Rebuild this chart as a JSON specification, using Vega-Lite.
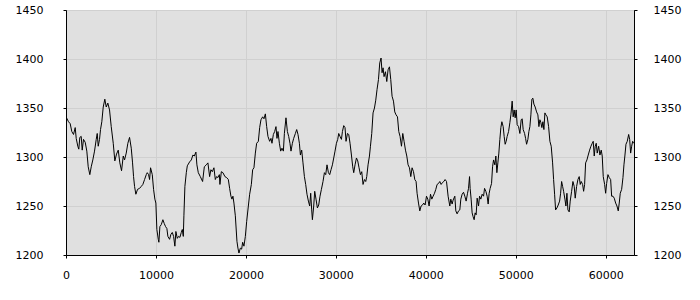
{
  "$schema": "https://vega.github.io/schema/vega-lite/v6.json",
  "width": 568,
  "height": 245,
  "autosize": {"type": "none"},
  "padding": {"left": 66, "top": 10, "right": 66, "bottom": 45},
  "background": "white",
  "config": {
    "view": {"fill": "#e0e0e0", "stroke": "#000000", "strokeWidth": 1},
    "axis": {
      "labelFont": "DejaVu Sans",
      "labelFontSize": 11,
      "labelColor": "#000000",
      "domainColor": "#000000",
      "tickColor": "#000000",
      "tickSize": 3,
      "gridColor": "#d0d0d0",
      "gridOpacity": 1,
      "labelFlush": false,
      "labelOverlap": false,
      "title": null
    }
  },
  "data": {
    "values": [
      {"x":0,"y":1341},{"x":278,"y":1336},{"x":467,"y":1334},{"x":645,"y":1326},{"x":835,"y":1323},{"x":1024,"y":1330},{"x":1135,"y":1319},{"x":1313,"y":1311},{"x":1424,"y":1308},{"x":1536,"y":1320},{"x":1691,"y":1321},{"x":1803,"y":1307},{"x":1947,"y":1318},{"x":2136,"y":1315},{"x":2314,"y":1306},{"x":2470,"y":1290},{"x":2648,"y":1282},{"x":2804,"y":1290},{"x":2982,"y":1297},{"x":3171,"y":1306},{"x":3360,"y":1318},{"x":3472,"y":1324},{"x":3583,"y":1311},{"x":3728,"y":1318},{"x":3839,"y":1328},{"x":3983,"y":1336},{"x":4139,"y":1351},{"x":4317,"y":1359},{"x":4473,"y":1351},{"x":4651,"y":1355},{"x":4840,"y":1348},{"x":5029,"y":1331},{"x":5252,"y":1314},{"x":5430,"y":1296},{"x":5619,"y":1303},{"x":5808,"y":1307},{"x":5986,"y":1294},{"x":6175,"y":1286},{"x":6365,"y":1301},{"x":6509,"y":1297},{"x":6698,"y":1304},{"x":6877,"y":1314},{"x":7066,"y":1320},{"x":7255,"y":1309},{"x":7400,"y":1294},{"x":7511,"y":1280},{"x":7622,"y":1270},{"x":7767,"y":1262},{"x":7956,"y":1267},{"x":8178,"y":1268},{"x":8368,"y":1270},{"x":8545,"y":1272},{"x":8735,"y":1277},{"x":8924,"y":1282},{"x":9035,"y":1284},{"x":9180,"y":1282},{"x":9291,"y":1277},{"x":9402,"y":1289},{"x":9591,"y":1282},{"x":9736,"y":1267},{"x":9881,"y":1257},{"x":9992,"y":1253},{"x":10103,"y":1226},{"x":10259,"y":1216},{"x":10326,"y":1213},{"x":10437,"y":1229},{"x":10593,"y":1231},{"x":10771,"y":1236},{"x":10927,"y":1232},{"x":11071,"y":1229},{"x":11216,"y":1227},{"x":11327,"y":1219},{"x":11516,"y":1216},{"x":11661,"y":1221},{"x":11817,"y":1223},{"x":11961,"y":1219},{"x":12106,"y":1209},{"x":12217,"y":1224},{"x":12373,"y":1217},{"x":12518,"y":1219},{"x":12662,"y":1218},{"x":12818,"y":1223},{"x":12930,"y":1226},{"x":13041,"y":1219},{"x":13108,"y":1240},{"x":13219,"y":1270},{"x":13375,"y":1284},{"x":13486,"y":1291},{"x":13742,"y":1295},{"x":13931,"y":1297},{"x":14109,"y":1302},{"x":14265,"y":1301},{"x":14443,"y":1305},{"x":14554,"y":1292},{"x":14710,"y":1284},{"x":14933,"y":1280},{"x":15188,"y":1275},{"x":15378,"y":1290},{"x":15600,"y":1292},{"x":15778,"y":1294},{"x":15967,"y":1280},{"x":16112,"y":1287},{"x":16268,"y":1285},{"x":16446,"y":1289},{"x":16602,"y":1277},{"x":16746,"y":1280},{"x":16891,"y":1279},{"x":17047,"y":1282},{"x":17113,"y":1272},{"x":17269,"y":1285},{"x":17447,"y":1284},{"x":17670,"y":1280},{"x":17859,"y":1279},{"x":18048,"y":1277},{"x":18193,"y":1268},{"x":18337,"y":1260},{"x":18449,"y":1257},{"x":18560,"y":1260},{"x":18671,"y":1253},{"x":18827,"y":1240},{"x":19005,"y":1214},{"x":19116,"y":1207},{"x":19228,"y":1202},{"x":19383,"y":1207},{"x":19528,"y":1206},{"x":19639,"y":1213},{"x":19784,"y":1209},{"x":19940,"y":1219},{"x":20084,"y":1234},{"x":20273,"y":1250},{"x":20418,"y":1262},{"x":20607,"y":1272},{"x":20752,"y":1287},{"x":20896,"y":1289},{"x":21052,"y":1304},{"x":21197,"y":1314},{"x":21386,"y":1316},{"x":21531,"y":1330},{"x":21675,"y":1338},{"x":21865,"y":1341},{"x":22009,"y":1339},{"x":22165,"y":1344},{"x":22310,"y":1331},{"x":22454,"y":1321},{"x":22644,"y":1316},{"x":22788,"y":1319},{"x":22900,"y":1314},{"x":23055,"y":1323},{"x":23200,"y":1326},{"x":23345,"y":1331},{"x":23456,"y":1319},{"x":23567,"y":1326},{"x":23723,"y":1314},{"x":23868,"y":1306},{"x":24012,"y":1309},{"x":24168,"y":1306},{"x":24279,"y":1324},{"x":24457,"y":1340},{"x":24613,"y":1326},{"x":24758,"y":1321},{"x":24902,"y":1314},{"x":25014,"y":1306},{"x":25169,"y":1314},{"x":25314,"y":1319},{"x":25503,"y":1324},{"x":25648,"y":1328},{"x":25793,"y":1323},{"x":25949,"y":1314},{"x":26060,"y":1302},{"x":26204,"y":1307},{"x":26349,"y":1294},{"x":26505,"y":1280},{"x":26650,"y":1272},{"x":26794,"y":1262},{"x":26950,"y":1255},{"x":27095,"y":1250},{"x":27206,"y":1263},{"x":27317,"y":1246},{"x":27395,"y":1236},{"x":27540,"y":1250},{"x":27651,"y":1265},{"x":27796,"y":1257},{"x":27951,"y":1248},{"x":28096,"y":1251},{"x":28241,"y":1260},{"x":28396,"y":1267},{"x":28574,"y":1275},{"x":28730,"y":1284},{"x":28875,"y":1282},{"x":29019,"y":1292},{"x":29175,"y":1284},{"x":29320,"y":1282},{"x":29465,"y":1287},{"x":29620,"y":1292},{"x":29765,"y":1299},{"x":29910,"y":1306},{"x":30066,"y":1314},{"x":30210,"y":1318},{"x":30321,"y":1324},{"x":30466,"y":1321},{"x":30622,"y":1318},{"x":30733,"y":1326},{"x":30878,"y":1332},{"x":31022,"y":1330},{"x":31134,"y":1316},{"x":31289,"y":1324},{"x":31434,"y":1323},{"x":31579,"y":1314},{"x":31734,"y":1302},{"x":31879,"y":1290},{"x":31990,"y":1284},{"x":32135,"y":1292},{"x":32291,"y":1299},{"x":32435,"y":1296},{"x":32580,"y":1289},{"x":32736,"y":1282},{"x":32881,"y":1285},{"x":33025,"y":1272},{"x":33181,"y":1277},{"x":33326,"y":1275},{"x":33437,"y":1280},{"x":33582,"y":1292},{"x":33737,"y":1301},{"x":33849,"y":1311},{"x":33993,"y":1324},{"x":34138,"y":1345},{"x":34294,"y":1350},{"x":34439,"y":1358},{"x":34583,"y":1369},{"x":34739,"y":1379},{"x":34884,"y":1396},{"x":35028,"y":1401},{"x":35140,"y":1386},{"x":35251,"y":1391},{"x":35362,"y":1382},{"x":35518,"y":1387},{"x":35663,"y":1377},{"x":35807,"y":1389},{"x":35963,"y":1392},{"x":36107,"y":1379},{"x":36252,"y":1362},{"x":36408,"y":1357},{"x":36553,"y":1346},{"x":36697,"y":1343},{"x":36853,"y":1341},{"x":36998,"y":1326},{"x":37142,"y":1321},{"x":37298,"y":1311},{"x":37443,"y":1324},{"x":37587,"y":1316},{"x":37743,"y":1307},{"x":37888,"y":1301},{"x":38033,"y":1292},{"x":38188,"y":1289},{"x":38333,"y":1280},{"x":38478,"y":1289},{"x":38634,"y":1285},{"x":38778,"y":1277},{"x":38923,"y":1275},{"x":39034,"y":1263},{"x":39190,"y":1253},{"x":39335,"y":1245},{"x":39479,"y":1250},{"x":39635,"y":1251},{"x":39779,"y":1253},{"x":39924,"y":1251},{"x":40080,"y":1260},{"x":40225,"y":1257},{"x":40369,"y":1250},{"x":40525,"y":1262},{"x":40670,"y":1257},{"x":40814,"y":1260},{"x":40970,"y":1263},{"x":41115,"y":1267},{"x":41259,"y":1272},{"x":41415,"y":1273},{"x":41560,"y":1275},{"x":41705,"y":1272},{"x":41860,"y":1274},{"x":42005,"y":1275},{"x":42149,"y":1277},{"x":42305,"y":1275},{"x":42483,"y":1260},{"x":42672,"y":1250},{"x":42783,"y":1257},{"x":42928,"y":1252},{"x":43040,"y":1256},{"x":43229,"y":1260},{"x":43340,"y":1245},{"x":43485,"y":1242},{"x":43641,"y":1245},{"x":43785,"y":1246},{"x":43897,"y":1257},{"x":44041,"y":1262},{"x":44197,"y":1264},{"x":44342,"y":1260},{"x":44486,"y":1255},{"x":44642,"y":1263},{"x":44753,"y":1268},{"x":44865,"y":1280},{"x":44932,"y":1268},{"x":45043,"y":1257},{"x":45154,"y":1243},{"x":45265,"y":1239},{"x":45377,"y":1236},{"x":45488,"y":1243},{"x":45599,"y":1241},{"x":45711,"y":1258},{"x":45866,"y":1250},{"x":45978,"y":1260},{"x":46122,"y":1257},{"x":46267,"y":1262},{"x":46423,"y":1260},{"x":46534,"y":1268},{"x":46679,"y":1265},{"x":46823,"y":1260},{"x":46935,"y":1252},{"x":47046,"y":1263},{"x":47157,"y":1268},{"x":47313,"y":1273},{"x":47424,"y":1290},{"x":47535,"y":1297},{"x":47680,"y":1292},{"x":47791,"y":1301},{"x":47903,"y":1284},{"x":48014,"y":1294},{"x":48125,"y":1304},{"x":48236,"y":1318},{"x":48348,"y":1330},{"x":48459,"y":1336},{"x":48604,"y":1331},{"x":48715,"y":1321},{"x":48826,"y":1313},{"x":48937,"y":1316},{"x":49049,"y":1321},{"x":49204,"y":1326},{"x":49349,"y":1335},{"x":49460,"y":1343},{"x":49605,"y":1357},{"x":49716,"y":1341},{"x":49827,"y":1348},{"x":49939,"y":1340},{"x":50050,"y":1348},{"x":50161,"y":1333},{"x":50317,"y":1331},{"x":50462,"y":1324},{"x":50606,"y":1338},{"x":50718,"y":1339},{"x":50829,"y":1328},{"x":50985,"y":1324},{"x":51096,"y":1319},{"x":51207,"y":1313},{"x":51352,"y":1318},{"x":51463,"y":1326},{"x":51574,"y":1331},{"x":51686,"y":1343},{"x":51797,"y":1359},{"x":51908,"y":1360},{"x":52019,"y":1354},{"x":52164,"y":1351},{"x":52320,"y":1346},{"x":52464,"y":1343},{"x":52576,"y":1331},{"x":52687,"y":1338},{"x":52798,"y":1335},{"x":52909,"y":1330},{"x":53021,"y":1336},{"x":53132,"y":1328},{"x":53243,"y":1345},{"x":53355,"y":1343},{"x":53499,"y":1341},{"x":53655,"y":1331},{"x":53800,"y":1316},{"x":53945,"y":1311},{"x":54100,"y":1294},{"x":54212,"y":1277},{"x":54323,"y":1262},{"x":54434,"y":1246},{"x":54579,"y":1248},{"x":54723,"y":1251},{"x":54879,"y":1255},{"x":54990,"y":1263},{"x":55102,"y":1275},{"x":55213,"y":1270},{"x":55324,"y":1265},{"x":55469,"y":1257},{"x":55580,"y":1250},{"x":55691,"y":1263},{"x":55802,"y":1246},{"x":55947,"y":1244},{"x":56058,"y":1255},{"x":56214,"y":1265},{"x":56358,"y":1275},{"x":56503,"y":1270},{"x":56614,"y":1258},{"x":56770,"y":1270},{"x":56915,"y":1277},{"x":57059,"y":1280},{"x":57171,"y":1272},{"x":57282,"y":1275},{"x":57438,"y":1272},{"x":57549,"y":1265},{"x":57660,"y":1272},{"x":57771,"y":1294},{"x":57916,"y":1297},{"x":58061,"y":1302},{"x":58216,"y":1307},{"x":58361,"y":1311},{"x":58506,"y":1314},{"x":58617,"y":1316},{"x":58728,"y":1301},{"x":58839,"y":1311},{"x":58951,"y":1314},{"x":59062,"y":1304},{"x":59218,"y":1311},{"x":59362,"y":1302},{"x":59507,"y":1307},{"x":59618,"y":1301},{"x":59730,"y":1280},{"x":59885,"y":1272},{"x":59996,"y":1263},{"x":60108,"y":1273},{"x":60253,"y":1282},{"x":60397,"y":1279},{"x":60553,"y":1277},{"x":60664,"y":1260},{"x":60809,"y":1260},{"x":60954,"y":1258},{"x":61110,"y":1253},{"x":61254,"y":1250},{"x":61399,"y":1245},{"x":61510,"y":1253},{"x":61622,"y":1263},{"x":61777,"y":1267},{"x":61922,"y":1279},{"x":62033,"y":1292},{"x":62145,"y":1302},{"x":62256,"y":1313},{"x":62400,"y":1316},{"x":62556,"y":1323},{"x":62667,"y":1318},{"x":62778,"y":1304},{"x":62890,"y":1311},{"x":63001,"y":1316},{"x":63112,"y":1314}
    ]
  },
  "layer": [
    {
      "mark": {"type": "line", "color": "#000000", "strokeWidth": 1, "clip": true},
      "encoding": {
        "x": {
          "field": "x",
          "type": "quantitative",
          "scale": {"domain": [0, 63150], "nice": false, "zero": false},
          "axis": {"values": [0, 10000, 20000, 30000, 40000, 50000, 60000], "format": "d", "labelPadding": 11, "grid": true}
        },
        "y": {
          "field": "y",
          "type": "quantitative",
          "scale": {"domain": [1200, 1450], "nice": false, "zero": false},
          "axis": {"values": [1200, 1250, 1300, 1350, 1400, 1450], "format": "d", "labelPadding": 20, "grid": true, "orient": "left"}
        }
      }
    },
    {
      "mark": {"type": "rule", "opacity": 0},
      "encoding": {
        "y": {
          "field": "y",
          "type": "quantitative",
          "scale": {"domain": [1200, 1450], "nice": false, "zero": false},
          "axis": {"values": [1200, 1250, 1300, 1350, 1400, 1450], "format": "d", "labelPadding": 16, "grid": false, "orient": "right"}
        }
      }
    }
  ],
  "resolve": {"scale": {"y": "independent"}}
}
